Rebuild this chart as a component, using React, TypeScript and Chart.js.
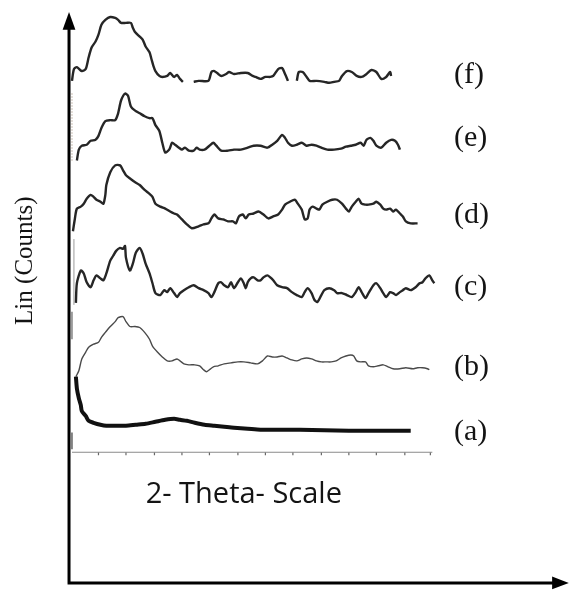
import React, { useEffect, useRef } from "react";
import { Chart, registerables } from "chart.js";

Chart.register(...registerables);

// ---------------- data (x = 2θ channel, y = counts above each trace's baseline) ----------------
const fX = [68, 70, 73, 78, 82, 85, 88, 92, 95, 98, 102, 107, 112, 115, 118, 123, 128, 130, 132, 137, 140, 143, 147, 149, 151, 153, 157, 160, 165, 168, 172, 175, 178, 181, 186, 192, 197, 207, 210, 213, 217, 220, 225, 228, 233, 240, 247, 252, 255, 260, 265, 270, 273, 278, 282, 285, 288, 292, 297, 299, 303, 307, 310, 317, 325, 330, 335, 340, 343, 348, 353, 358, 363, 368, 373, 378, 383, 388, 392, 393];
const fY = [1, 13, 15, 11, 13, 25, 35, 41, 48, 58, 63, 66, 65, 63, 60, 60, 60, 55, 51, 46, 43, 36, 30, 23, 16, 11, 6, 5, 6, 9, 5, 7, 3, 0, null, 0, 1, 1, 10, 11, 8, 6, 8, 10, 8, 9, 9, 6, 5, 3, 5, 5, 6, 13, 14, 8, 1, null, 1, 10, 10, 5, 1, 1, 0, -1, 0, 1, 6, 11, 10, 6, 5, 8, 12, 10, 3, 5, 10, 6];

const eX = [73, 75, 78, 83, 87, 92, 95, 98, 102, 107, 112, 115, 118, 122, 125, 128, 132, 137, 142, 147, 150, 153, 157, 160, 163, 167, 170, 173, 177, 180, 183, 187, 192, 195, 198, 203, 208, 212, 215, 220, 227, 233, 240, 247, 253, 260, 267, 272, 277, 282, 285, 288, 292, 297, 302, 307, 312, 317, 322, 328, 335, 342, 347, 352, 357, 362, 365, 368, 372, 375, 378, 383, 388, 393, 397, 400, 402];
const eY = [-10, 1, 5, 6, 10, 11, 15, 23, 30, 31, 31, 38, 51, 58, 56, 45, 41, 38, 35, 33, 33, 26, 20, 8, -2, 1, 8, 6, 3, 1, 3, 0, 0, 3, 1, 1, 5, 8, 5, 0, 0, 1, 1, 3, 5, 5, 3, 6, 10, 16, 13, 8, 5, 6, 8, 5, 6, 5, 3, 1, 1, 2, 4, 5, 6, 8, 5, 11, 13, 10, 5, 3, 8, 11, 10, 6, 1];

const dX = [69, 71, 73, 77, 80, 83, 87, 90, 93, 97, 100, 102, 103, 107, 112, 117, 120, 123, 128, 132, 137, 142, 147, 150, 153, 158, 163, 168, 172, 175, 180, 185, 190, 197, 202, 207, 210, 213, 217, 222, 227, 232, 235, 238, 242, 245, 248, 253, 258, 263, 268, 273, 278, 282, 285, 290, 295, 298, 302, 305, 308, 310, 313, 317, 320, 323, 328, 333, 338, 343, 347, 350, 353, 357, 360, 363, 367, 370, 375, 378, 382, 385, 388, 392, 395, 398, 402, 405, 408, 413, 420];
const dY = [-3, 10, 20, 22, 25, 30, 34, 32, 29, 27, 25, 34, 44, 57, 64, 64, 59, 54, 50, 47, 44, 39, 35, 32, 25, 22, 20, 17, 15, 14, 9, 4, 0, 2, 4, 5, 10, 14, 10, 9, 7, 7, 5, 12, 14, 10, 14, 15, 17, 14, 10, 12, 14, 19, 24, 27, 29, 25, 19, 9, 10, 19, 22, 20, 19, 24, 27, 29, 29, 25, 20, 17, 22, 27, 30, 25, 24, 24, 25, 27, 24, 20, 19, 20, 17, 19, 15, 12, 7, 5, 5];

const cX = [72, 73, 77, 80, 83, 87, 90, 93, 97, 100, 103, 107, 110, 113, 117, 120, 122, 123, 127, 130, 133, 137, 140, 143, 147, 150, 153, 158, 162, 165, 168, 172, 175, 178, 182, 187, 192, 197, 202, 207, 210, 213, 217, 220, 223, 227, 230, 233, 237, 240, 243, 245, 247, 250, 253, 257, 260, 263, 267, 270, 273, 277, 282, 287, 292, 297, 302, 305, 308, 312, 315, 318, 322, 325, 330, 335, 338, 343, 348, 353, 357, 360, 363, 367, 370, 375, 378, 382, 385, 388, 392, 395, 398, 402, 405, 408, 413, 418, 422, 425, 428, 432, 435, 437];
const cY = [-3, 17, 30, 27, 18, 13, 20, 25, 22, 20, 27, 40, 45, 50, 53, 52, 55, 43, 30, 37, 48, 53, 47, 37, 27, 17, 7, 5, 10, 8, 12, 7, 3, 7, 10, 13, 15, 12, 10, 7, 3, 8, 17, 18, 15, 13, 18, 12, 18, 22, 17, 12, 18, 22, 23, 20, 20, 23, 25, 23, 20, 15, 13, 12, 8, 5, 3, 8, 12, 7, 0, -2, 5, 10, 12, 10, 7, 7, 5, 3, 8, 13, 8, 2, 7, 15, 17, 12, 7, 3, 8, 7, 5, 8, 10, 12, 10, 13, 17, 18, 22, 25, 20, 17];

const bX = [72, 75, 78, 82, 85, 90, 95, 98, 102, 107, 112, 115, 120, 123, 127, 132, 137, 142, 147, 150, 155, 160, 165, 170, 175, 178, 182, 187, 193, 198, 202, 205, 208, 212, 217, 223, 230, 237, 243, 250, 257, 262, 267, 272, 277, 282, 287, 292, 297, 302, 307, 312, 317, 322, 327, 332, 337, 342, 347, 352, 355, 358, 362, 367, 370, 375, 380, 385, 390, 395, 402, 408, 415, 420, 425, 430, 432];
const bY = [-6, 0, 12, 19, 24, 27, 29, 34, 39, 45, 50, 54, 55, 50, 45, 45, 44, 39, 32, 25, 19, 14, 10, 10, 12, 10, 7, 6, 6, 5, 1, -1, 1, 4, 5, 7, 8, 9, 9, 8, 7, 10, 15, 14, 14, 15, 13, 11, 10, 12, 13, 12, 10, 9, 9, 9, 10, 13, 15, 16, 15, 10, 9, 9, 5, 4, 5, 6, 4, 2, 2, 3, 2, 3, 3, 2, 1];

const aX = [72, 73, 75, 77, 78, 82, 85, 90, 97, 103, 113, 123, 133, 143, 153, 163, 172, 178, 185, 193, 203, 213, 223, 233, 247, 260, 300, 350, 413];
const aY = [55, 43, 33, 26, 20, 15, 10, 8, 6, 5, 5, 5, 6, 7, 9, 11, 12, 11, 10, 8, 6, 5, 4, 3, 2, 1, 1, 0, 0];

// baseline of each trace on the stacked count scale
const traceNames = ["(a)", "(b)", "(c)", "(d)", "(e)", "(f)"];
const traceOffsets = [164, 225, 297, 370, 449, 519];

// 2θ axis and its tick channels
const thetaAxisStart = 68;
const thetaAxisEnd = 435;
const thetaTicks = [95, 123, 152, 180, 208, 237, 265, 293, 322, 350, 378, 407, 433];
const thetaAxisLevel = 142;

const xTitle = "2- Theta- Scale";
const yTitle = "Lin (Counts)";

// ---------------- helpers ----------------
const W = 574;
const H = 597;

function pts(xs: number[], ys: (number | null)[], off: number) {
  return xs.map((x, i) => ({ x, y: ys[i] === null ? null : (ys[i] as number) + off }));
}

const labelY = [162, 229, 310, 383, 462, 526];

const decor = {
  id: "decor",
  afterDatasetsDraw(chart: any) {
    const { ctx, scales } = chart;
    const xs = scales.x;
    const ys = scales.y;
    const X = (v: number) => xs.getPixelForValue(v);
    const Y = (v: number) => ys.getPixelForValue(v);
    ctx.save();
    // main axes with arrows
    ctx.strokeStyle = "#000";
    ctx.fillStyle = "#000";
    ctx.lineWidth = 3;
    ctx.beginPath();
    ctx.moveTo(X(65), Y(9));
    ctx.lineTo(X(65), Y(575));
    ctx.moveTo(X(63.5), Y(9));
    ctx.lineTo(X(560), Y(9));
    ctx.stroke();
    ctx.beginPath();
    ctx.moveTo(X(65), Y(590));
    ctx.lineTo(X(58.5), Y(572));
    ctx.lineTo(X(71.5), Y(572));
    ctx.closePath();
    ctx.fill();
    ctx.beginPath();
    ctx.moveTo(X(574), Y(9));
    ctx.lineTo(X(557), Y(15.5));
    ctx.lineTo(X(557), Y(2.5));
    ctx.closePath();
    ctx.fill();

    // texts
    ctx.fillStyle = "#141414";
    ctx.textBaseline = "middle";
    ctx.textAlign = "left";
    ctx.font = "30px 'Liberation Serif'";
    traceNames.forEach((t, i) => {
      ctx.fillText(t, X(457), Y(labelY[i]));
    });
    ctx.textAlign = "center";
    ctx.font = "29px 'Open Sans'";
    ctx.fillText(xTitle, X(243), Y(99));
    ctx.translate(X(21), Y(337));
    ctx.rotate(-Math.PI / 2);
    ctx.font = "25px 'Liberation Serif'";
    ctx.fillText(yTitle, 0, 0);
    ctx.restore();
  },
};

export default function App() {
  const ref = useRef<HTMLCanvasElement | null>(null);
  useEffect(() => {
    if (!ref.current) return;
    const line = (data: any[], color: string, width: number, tension = 0.25, dash: number[] = []) => ({
      data,
      borderColor: color,
      borderWidth: width,
      pointRadius: 0,
      tension,
      borderDash: dash,
      spanGaps: false,
      fill: false,
    });
    const xsArr = [aX, bX, cX, dX, eX, fX];
    const ysArr = [aY, bY, cY, dY, eY, fY];
    const styles: [string, number][] = [
      ["#111", 4],
      ["#4a4a4a", 1.4],
      ["#262626", 2.4],
      ["#262626", 2.4],
      ["#262626", 2.4],
      ["#262626", 2.4],
    ];
    const traces = xsArr.map((xs, i) => line(pts(xs, ysArr[i], traceOffsets[i]), styles[i][0], styles[i][1]));

    const axisLine = line(
      [
        { x: thetaAxisStart, y: thetaAxisLevel },
        { x: thetaAxisEnd, y: thetaAxisLevel },
      ],
      "#8a8a8a",
      1.2,
      0
    );
    const tickMarks = {
      type: "scatter",
      data: thetaTicks.map((t) => ({ x: t, y: thetaAxisLevel - 1.5 })),
      pointStyle: "line",
      rotation: 90,
      pointRadius: 1.6,
      borderColor: "#666",
      borderWidth: 1.2,
      showLine: false,
    };
    const rulers = [
      line([{ x: 68, y: 439 }, { x: 68, y: 509 }], "#b7a99a", 1.5, 0, [1, 2]),
      line([{ x: 70, y: 292 }, { x: 70, y: 359 }], "#9a9a9a", 1, 0),
      line([{ x: 68, y: 257 }, { x: 68, y: 285 }], "#777", 1.4, 0),
      line([{ x: 68, y: 145 }, { x: 68, y: 162 }], "#555", 1.4, 0),
    ];

    const chart = new Chart(ref.current, {
      type: "line",
      data: { datasets: [...traces, axisLine, tickMarks, ...rulers] as any },
      options: {
        animation: false,
        responsive: false,
        maintainAspectRatio: false,
        devicePixelRatio: 1,
        layout: { padding: 0 },
        plugins: { legend: { display: false }, tooltip: { enabled: false }, title: { display: false } },
        scales: {
          x: { type: "linear", min: 0, max: W, display: false },
          y: { type: "linear", min: 0, max: H, display: false },
        },
      },
      plugins: [decor],
    });
    return () => chart.destroy();
  }, []);

  return (
    <div style={{ position: "absolute", left: 0, top: 0, width: W, height: H, background: "#fff" }}>
      <canvas ref={ref} width={W} height={H} style={{ width: W, height: H, display: "block" }} />
    </div>
  );
}
